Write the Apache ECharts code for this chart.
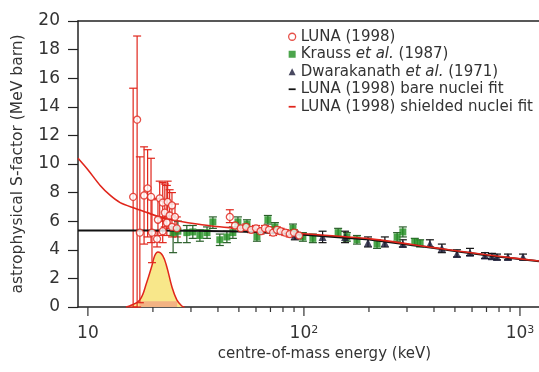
<!DOCTYPE html>
<html>
<head>
<meta charset="utf-8">
<title>S-factor</title>
<script src="https://cdn.jsdelivr.net/npm/echarts@6/dist/echarts.min.js"></script>
<style>
  html, body { margin: 0; padding: 0; background: #fff; }
  #chart { width: 539px; height: 372px; }
</style>
</head>
<body>
<div id="chart"></div>
<script>
// [E (keV), S, err low, err high]
var lunaData = [
  [16.2, 7.7, 0.0, 15.3], [16.9, 13.1, 0.0, 18.95], [17.4, 5.2, 0.3, 10.5],
  [18.2, 7.8, 4.4, 11.2], [18.9, 8.3, 4.9, 11.0], [19.6, 7.7, 4.5, 10.4],
  [19.8, 5.2, 3.1, 7.5], [20.9, 4.75, 4.2, 5.3], [21.1, 6.1, 5.0, 7.6],
  [21.5, 7.6, 6.3, 8.8], [22.2, 7.3, 6.0, 8.7], [22.2, 5.3, 4.5, 6.2],
  [22.7, 6.6, 5.6, 8.6], [23.2, 5.9, 5.0, 8.5], [23.4, 7.35, 6.3, 8.8],
  [23.9, 6.4, 5.5, 8.2], [24.5, 7.1, 6.3, 8.0], [24.5, 5.6, 4.9, 6.4],
  [25.3, 6.3, 5.6, 7.2], [25.8, 5.5, 4.9, 6.3],
  [45.4, 6.3, 5.9, 6.8],
  [48, 5.7, 5.5, 5.9], [51, 5.5, 5.3, 5.7], [54, 5.6, 5.4, 5.8], [57, 5.4, 5.2, 5.6],
  [60, 5.5, 5.3, 5.7], [63, 5.3, 5.1, 5.5], [66, 5.5, 5.3, 5.7], [69, 5.4, 5.2, 5.6],
  [72, 5.2, 5.0, 5.4], [75, 5.4, 5.2, 5.6], [78, 5.3, 5.1, 5.5], [82, 5.2, 5.0, 5.4],
  [86, 5.1, 4.9, 5.3], [90, 5.2, 5.0, 5.4], [95, 5.0, 4.8, 5.2]
];
var kraussData = [
  [24.8, 5.2, 3.8, 5.6], [26.1, 5.3, 4.5, 6.0], [28.7, 5.2, 4.5, 5.7], [30.6, 5.25, 4.8, 5.7],
  [33.0, 5.0, 4.6, 5.4], [35.6, 5.2, 4.8, 5.6], [37.9, 5.95, 5.5, 6.3], [40.8, 4.7, 4.3, 5.1],
  [44.0, 4.9, 4.5, 5.3], [46.9, 5.2, 4.8, 5.6], [49.5, 5.95, 5.6, 6.3], [54.5, 5.8, 5.5, 6.1],
  [60.6, 4.9, 4.6, 5.2], [68.1, 6.1, 5.8, 6.4], [73.4, 5.6, 5.3, 5.9], [89.0, 5.5, 5.2, 5.8],
  [98.9, 4.9, 4.6, 5.2], [110, 4.8, 4.5, 5.1], [144, 5.2, 4.9, 5.5], [158, 4.9, 4.6, 5.2],
  [176, 4.7, 4.4, 5.0], [218, 4.4, 4.1, 4.7], [270, 4.9, 4.6, 5.2], [287, 5.25, 4.9, 5.6],
  [326, 4.55, 4.3, 4.8], [345, 4.45, 4.2, 4.7]
];
var dwarData = [
  [90.8, 5.0, 4.7, 5.3], [122, 4.9, 4.5, 5.3], [155, 4.9, 4.5, 5.3], [198, 4.5, 4.2, 4.9],
  [237, 4.5, 4.2, 4.9], [287, 4.4, 4.2, 4.7], [383, 4.4, 4.2, 4.7], [435, 4.1, 3.8, 4.4],
  [511, 3.7, 3.5, 4.0], [587, 3.8, 3.6, 4.1], [689, 3.6, 3.4, 3.8], [742, 3.55, 3.35, 3.75],
  [783, 3.5, 3.3, 3.7], [880, 3.5, 3.3, 3.7], [1033, 3.5, 3.3, 3.7]
];
var bareFit = [
  [9, 5.35], [20, 5.35], [30, 5.33], [50, 5.28], [80, 5.15], [100, 5.05],
  [200, 4.72], [400, 4.12], [527, 3.87], [700, 3.62], [900, 3.43], [1225, 3.2]
];
var shieldedFit = [
  [9, 10.4], [10, 9.6], [11.4, 8.5], [12.7, 7.8], [14.1, 7.3], [16.5, 6.9], [18.8, 6.6],
  [22, 6.25], [26.6, 6.0], [32, 5.8], [38, 5.65], [50, 5.5], [77, 5.25], [100, 5.12],
  [200, 4.78], [400, 4.15], [527, 3.9], [700, 3.65], [900, 3.45], [1225, 3.22]
];
var gamowPeak = [
  [15.0, 0], [15.6, 0.07], [17.4, 0.5], [18.7, 1.7], [19.8, 2.9], [20.4, 3.6], [21.1, 3.85],
  [22.2, 3.6], [23.2, 2.8], [24.5, 1.4], [25.8, 0.5], [27.2, 0.07], [28.0, 0]
];
var gamowBand = [[17.3, 0.4], [25.9, 0.4]];
var majorTicks = [10, 100, 1000];
var minorTicks = [20, 30, 40, 50, 60, 70, 80, 90, 200, 300, 400, 500, 600, 700, 800, 900];

var xMin = 9, xMax = 1225;
var red = '#e0261c', green = '#1f8f1f', font = 'DejaVu Sans';

function errBars(color, cap) {
  return function (params, api) {
    var lo = api.coord([api.value(0), api.value(1)]);
    var hi = api.coord([api.value(0), api.value(2)]);
    var st = { stroke: color, lineWidth: 1.2 };
    return {
      type: 'group',
      children: [
        { type: 'line', shape: { x1: lo[0], y1: lo[1], x2: hi[0], y2: hi[1] }, style: st },
        { type: 'line', shape: { x1: lo[0] - cap, y1: lo[1], x2: lo[0] + cap, y2: lo[1] }, style: st },
        { type: 'line', shape: { x1: hi[0] - cap, y1: hi[1], x2: hi[0] + cap, y2: hi[1] }, style: st }
      ]
    };
  };
}
// x ticks hang below the axis line at S = 0
function tickMarks(len) {
  return function (params, api) {
    var p = api.coord([api.value(0), 0]);
    return {
      type: 'line', shape: { x1: p[0], y1: p[1], x2: p[0], y2: p[1] + len },
      style: { stroke: '#333', lineWidth: 1.2 }
    };
  };
}
function pts(d) { return d.map(function (r) { return [r[0], r[1]]; }); }
function errs(d) { return d.map(function (r) { return [r[0], r[2], r[3]]; }); }
function ticks(a) { return a.map(function (v) { return [v, 0]; }); }

var chart = echarts.init(document.getElementById('chart'));
var dash = 'path://M0,0H8V2H0Z';
var txt = '#333';
var option = {
  animation: false,
  textStyle: { fontFamily: font },
  grid: { left: 78, top: 21, right: 0, bottom: 65, containLabel: false, outerBoundsMode: 'none' },
  legend: {
    orient: 'vertical', left: 283, top: 23,
    itemWidth: 7, itemHeight: 7, itemGap: 0,
    textStyle: {
      fontFamily: font, fontSize: 15, color: txt, lineHeight: 17.5,
      rich: { i: { fontFamily: font, fontSize: 15, fontStyle: 'italic', color: txt, lineHeight: 17.5 } }
    },
    formatter: function (n) { return n.replace('et al.', '{i|et al.}'); },
    data: [
      { name: 'LUNA (1998)', icon: 'circle', itemStyle: { color: '#fff', borderColor: red, borderWidth: 1.3 } },
      { name: 'Krauss et al. (1987)', icon: 'rect' },
      { name: 'Dwarakanath et al. (1971)', icon: 'triangle' },
      { name: 'LUNA (1998) bare nuclei fit', icon: dash },
      { name: 'LUNA (1998) shielded nuclei fit', icon: dash }
    ]
  },
  xAxis: [
    {
      type: 'log', logBase: 10, min: xMin, max: xMax,
      name: 'centre-of-mass energy (keV)', nameLocation: 'middle', nameGap: 36,
      nameTextStyle: { fontSize: 15, color: txt, padding: [0, 0, 0, 32] },
      axisLine: { show: true, onZero: false, lineStyle: { color: '#222', width: 1.5 } },
      axisTick: { show: false }, minorTick: { show: false },
      splitLine: { show: false },
      axisLabel: {
        fontSize: 17, color: txt, margin: 18, showMinLabel: false, showMaxLabel: false,
        formatter: function (v) {
          var p = Math.round(Math.log10(v));
          return p === 1 ? '10' : '10{sup|' + p + '}';
        },
        rich: { sup: { fontSize: 11, verticalAlign: 'top', lineHeight: 11, color: txt } }
      }
    },
    {
      type: 'value', min: 0, max: 1, position: 'top',
      axisLine: { show: true, onZero: false, lineStyle: { color: '#222', width: 1.5 } },
      axisTick: { show: false }, axisLabel: { show: false }, splitLine: { show: false }
    }
  ],
  yAxis: {
    type: 'value', min: 0, max: 20, interval: 2,
    name: 'astrophysical S-factor (MeV barn)', nameLocation: 'middle', nameGap: 52,
    nameTextStyle: { fontSize: 15.5, color: txt },
    axisLine: { show: true, lineStyle: { color: '#222', width: 1.5 } },
    axisTick: { show: true, inside: false, length: 10, lineStyle: { color: '#222', width: 1.2 } },
    axisLabel: { fontSize: 17, color: txt, margin: 18 },
    splitLine: { show: false }
  },
  series: [
    { name: 'major ticks', type: 'custom', renderItem: tickMarks(9), data: ticks(majorTicks), clip: false, silent: true, z: 6 },
    { name: 'minor ticks', type: 'custom', renderItem: tickMarks(5), data: ticks(minorTicks), clip: false, silent: true, z: 6 },
    {
      name: 'gamow', type: 'line', data: gamowPeak, smooth: 0.4, symbol: 'none', z: 1,
      lineStyle: { color: red, width: 1.5 }, itemStyle: { color: red },
      areaStyle: { color: '#f8e78a', opacity: 1 }
    },
    {
      name: 'gamow band', type: 'line', data: gamowBand, symbol: 'none', z: 1,
      lineStyle: { width: 0 }, areaStyle: { color: '#f3b383', opacity: 1 }
    },
    { name: 'luna err', type: 'custom', renderItem: errBars(red, 4), data: errs(lunaData), encode: { x: 0, y: [1, 2] }, z: 2 },
    { name: 'krauss err', type: 'custom', renderItem: errBars('#2a5e2a', 4), data: errs(kraussData), encode: { x: 0, y: [1, 2] }, z: 2 },
    { name: 'dwar err', type: 'custom', renderItem: errBars('#111', 4), data: errs(dwarData), encode: { x: 0, y: [1, 2] }, z: 2 },
    {
      name: 'Krauss et al. (1987)', type: 'scatter', data: pts(kraussData), symbol: 'rect', symbolSize: 7, z: 3,
      itemStyle: { color: green }
    },
    {
      name: 'Dwarakanath et al. (1971)', type: 'scatter', data: pts(dwarData), symbol: 'triangle', symbolSize: 8, z: 3,
      itemStyle: { color: '#1b1b38' }
    },
    {
      name: 'LUNA (1998) bare nuclei fit', type: 'line', data: bareFit, symbol: 'none', z: 4,
      lineStyle: { color: '#111', width: 2 }, itemStyle: { color: '#111' }
    },
    {
      name: 'LUNA (1998) shielded nuclei fit', type: 'line', data: shieldedFit, smooth: 0.3, symbol: 'none', z: 4,
      lineStyle: { color: red, width: 1.6 }, itemStyle: { color: red }
    },
    {
      name: 'LUNA (1998)', type: 'scatter', data: pts(lunaData), symbol: 'circle', symbolSize: 7, z: 5,
      itemStyle: { color: '#fff', borderColor: red, borderWidth: 1.3 }
    }
  ]
};
chart.setOption(option);
window.addEventListener('resize', chart.resize);
</script>
</body>
</html>
